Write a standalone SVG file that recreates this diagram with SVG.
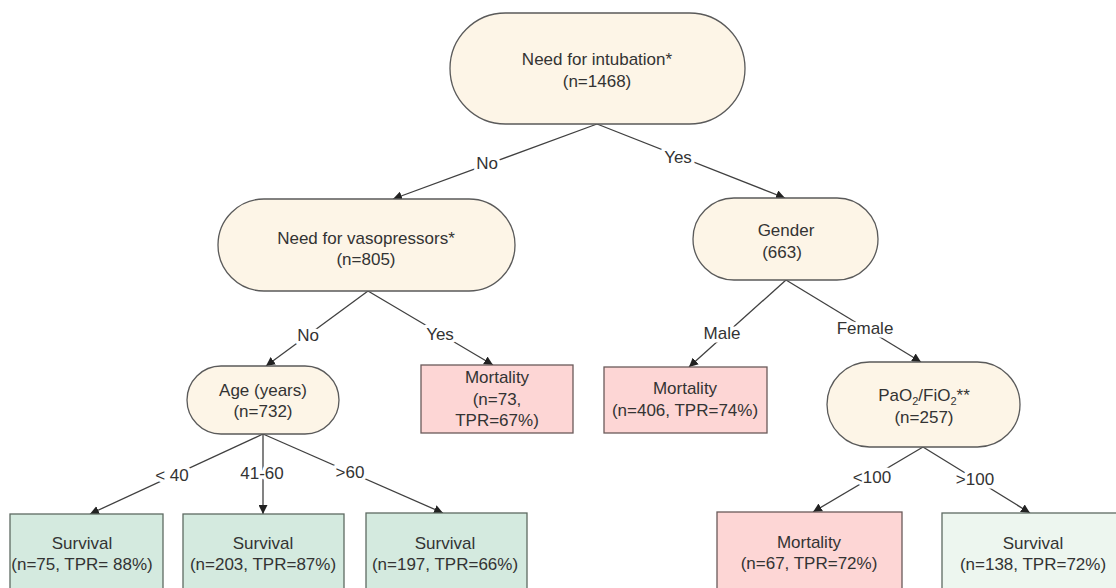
<svg xmlns="http://www.w3.org/2000/svg" width="1116" height="588" viewBox="0 0 1116 588">
<style>
text{font-family:"Liberation Sans",Arial,sans-serif;font-size:17px;fill:#333;text-anchor:middle}
.dec{fill:#FDF5E7;stroke:#5a5a5a;stroke-width:1.3}
.mort{fill:#FDD6D5;stroke:#6a5a5a;stroke-width:1.3}
.surv{fill:#D4EADF;stroke:#5e6a62;stroke-width:1.3}
.surv2{fill:#EDF6EF;stroke:#5e6a62;stroke-width:1.3}
.edge{stroke:#404040;stroke-width:1.3;fill:none;marker-end:url(#ah)}
.lbl{stroke:#fff;stroke-width:7;paint-order:stroke;stroke-linejoin:round}
</style>
<defs>
<marker id="ah" viewBox="0 0 10 10" refX="10" refY="5" markerWidth="9" markerHeight="9" markerUnits="userSpaceOnUse" orient="auto">
<path d="M0,0 L10,5 L0,10 z" fill="#222"/>
</marker>
</defs>
<rect width="1116" height="588" fill="#fff"/>
<g id="connectors">
<line class="edge" x1="597" y1="124" x2="393" y2="199"/>
<line class="edge" x1="597" y1="124" x2="785" y2="198"/>
<line class="edge" x1="368" y1="291" x2="266" y2="366"/>
<line class="edge" x1="368" y1="291" x2="493" y2="365"/>
<line class="edge" x1="786" y1="280" x2="689" y2="367"/>
<line class="edge" x1="786" y1="280" x2="921" y2="362"/>
<line class="edge" x1="263" y1="434" x2="90" y2="514"/>
<line class="edge" x1="263" y1="434" x2="263" y2="514"/>
<line class="edge" x1="263" y1="434" x2="443" y2="513"/>
<line class="edge" x1="923" y1="447" x2="813" y2="512"/>
<line class="edge" x1="923" y1="447" x2="1030" y2="513"/>
<text class="lbl" x="487" y="169">No</text>
<text class="lbl" x="678" y="163">Yes</text>
<text class="lbl" x="308" y="341">No</text>
<text class="lbl" x="440" y="340">Yes</text>
<text class="lbl" x="722" y="339">Male</text>
<text class="lbl" x="865" y="334">Female</text>
<text class="lbl" x="172" y="481">&lt; 40</text>
<text class="lbl" x="262" y="479">41-60</text>
<text class="lbl" x="350" y="478">&gt;60</text>
<text class="lbl" x="872" y="483">&lt;100</text>
<text class="lbl" x="975" y="485">&gt;100</text>
</g>
<g id="n-intubation">
<rect class="dec" x="450" y="13" width="295" height="111" rx="55.5"/>
<text x="597" y="65">Need for intubation*</text>
<text x="597" y="87">(n=1468)</text>
</g>
<g id="n-vaso">
<rect class="dec" x="218" y="199" width="297" height="92" rx="46"/>
<text x="366" y="244">Need for vasopressors*</text>
<text x="366" y="265">(n=805)</text>
</g>
<g id="n-gender">
<rect class="dec" x="693" y="198" width="185" height="82" rx="41"/>
<text x="786" y="236">Gender</text>
<text x="782" y="258">(663)</text>
</g>
<g id="n-age">
<rect class="dec" x="187" y="366" width="152" height="68" rx="34"/>
<text x="263" y="396">Age (years)</text>
<text x="263" y="417">(n=732)</text>
</g>
<g id="n-mort73">
<rect class="mort" x="421" y="365" width="152" height="68"/>
<text x="497" y="383">Mortality</text>
<text x="497" y="405">(n=73,</text>
<text x="497" y="426">TPR=67%)</text>
</g>
<g id="n-mort406">
<rect class="mort" x="604" y="367" width="163" height="66"/>
<text x="685" y="394">Mortality</text>
<text x="685" y="416">(n=406, TPR=74%)</text>
</g>
<g id="n-pao2">
<rect class="dec" x="827" y="362" width="193" height="85" rx="42.5"/>
<text x="924" y="401">PaO<tspan font-size="11" dy="4">2</tspan><tspan dy="-4">/FiO</tspan><tspan font-size="11" dy="4">2</tspan><tspan dy="-4">**</tspan></text>
<text x="924" y="423">(n=257)</text>
</g>
<g id="n-surv75">
<rect class="surv" x="10" y="514" width="153" height="80"/>
<text x="82" y="549">Survival</text>
<text x="82" y="570">(n=75, TPR= 88%)</text>
</g>
<g id="n-surv203">
<rect class="surv" x="183" y="514" width="161" height="80"/>
<text x="263" y="549">Survival</text>
<text x="263" y="570">(n=203, TPR=87%)</text>
</g>
<g id="n-surv197">
<rect class="surv" x="366" y="513" width="161" height="80"/>
<text x="445" y="549">Survival</text>
<text x="445" y="570">(n=197, TPR=66%)</text>
</g>
<g id="n-mort67">
<rect class="mort" x="717" y="512" width="185" height="82"/>
<text x="809" y="548">Mortality</text>
<text x="809" y="569">(n=67, TPR=72%)</text>
</g>
<g id="n-surv138">
<rect class="surv2" x="942" y="513" width="185" height="82"/>
<text x="1033" y="549">Survival</text>
<text x="1033" y="570">(n=138, TPR=72%)</text>
</g>
</svg>
